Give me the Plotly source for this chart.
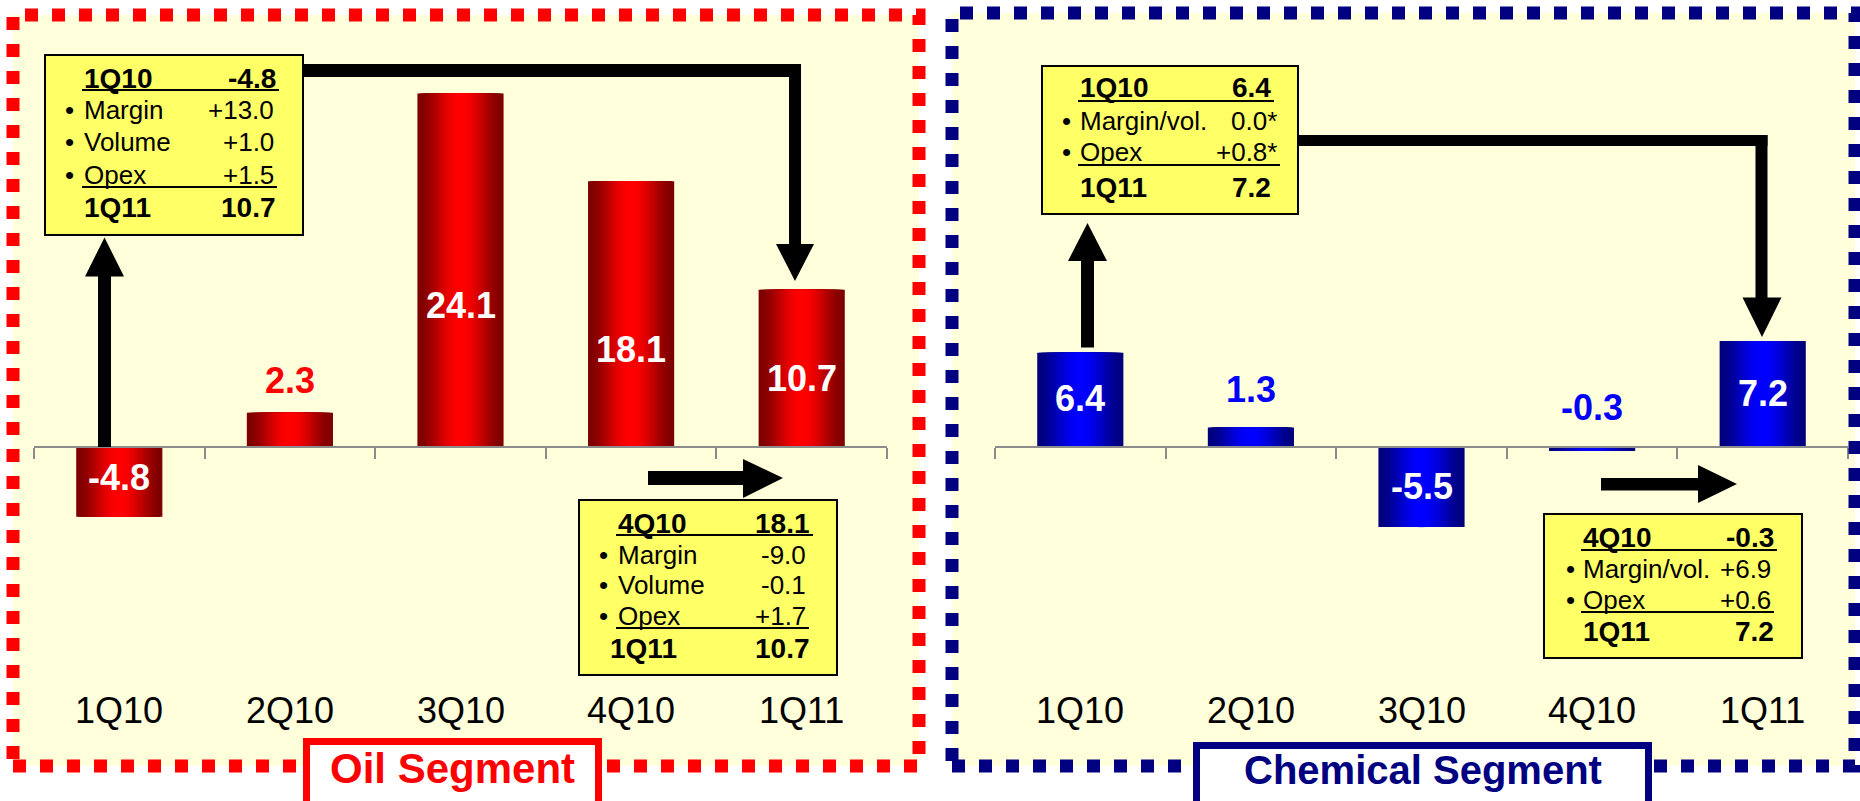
import math
import plotly.graph_objects as go

# ---- data -------------------------------------------------------------
quarters = ["1Q10", "2Q10", "3Q10", "4Q10", "1Q11"]
oil_income = [-4.8, 2.3, 24.1, 18.1, 10.7]
chem_income = [6.4, 1.3, -5.5, -0.3, 7.2]

# bridge boxes: (label, value) rows between the opening and closing quarter
oil_bridge_1q = [("Margin", "+13.0"), ("Volume", "+1.0"), ("Opex", "+1.5")]
oil_bridge_4q = [("Margin", "-9.0"), ("Volume", "-0.1"), ("Opex", "+1.7")]
chem_bridge_1q = [("Margin/vol.", "0.0*"), ("Opex", "+0.8*")]
chem_bridge_4q = [("Margin/vol.", "+6.9"), ("Opex", "+0.6")]

# ---- canvas helpers -----------------------------------------------------
W, H = 1860, 801
PX_PER_UNIT = 14.65
ZERO_Y = 446.5
Y_RANGE = [-(H - ZERO_Y) / PX_PER_UNIT, ZERO_Y / PX_PER_UNIT]


def px(x):
    return x / W


def py(y):
    return 1 - y / H


def rect(x0, y0, x1, y1, **kw):
    d = dict(type="rect", xref="paper", yref="paper",
             x0=px(x0), x1=px(x1), y0=py(y1), y1=py(y0))
    d.update(kw)
    return d


def tri(p1, p2, p3, color="black"):
    pts = [p1, p2, p3]
    path = "M " + " L ".join(f"{px(a)},{py(b)}" for a, b in pts) + " Z"
    return dict(type="path", xref="paper", yref="paper", path=path,
                fillcolor=color, line=dict(width=0), layer="above")


def line(x0, y0, x1, y1, width=2, color="black"):
    return dict(type="line", xref="paper", yref="paper",
                x0=px(x0), x1=px(x1), y0=py(y0), y1=py(y1),
                line=dict(color=color, width=width), layer="above")


fig = go.Figure()

# ---- cylinder-shaded bars ---------------------------------------------------
# Nested, centred bars: the widest (darkest) first, each narrower one a
# little brighter, giving a smooth dark-bright-dark horizontal gradient.
BAR_W = 0.505
N_BANDS = 22


def shade(t, hue):
    s = math.sin(math.pi * t) ** 1.8
    v = int(round(125 + 130 * s))
    return f"rgb({v},0,0)" if hue == "red" else f"rgb(0,0,{v})"


for values, xa, ya, hue in [(oil_income, "x", "y", "red"),
                            (chem_income, "x2", "y2", "blue")]:
    for k in range(N_BANDS):
        w = BAR_W * (1 - k / N_BANDS)
        t = (k + 0.5) / (2 * N_BANDS)
        fig.add_trace(go.Bar(
            x=quarters, y=values, xaxis=xa, yaxis=ya, width=w,
            marker=dict(color=shade(t, hue), line=dict(width=0)),
            hoverinfo="skip", showlegend=False))

# ---- value labels on the bars ---------------------------------------------
oil_label_y = [-2.1, 4.5, 9.6, 6.6, 4.65]
chem_label_y = [3.25, 3.9, -2.75, 2.65, 3.6]
oil_outside = {1}
chem_outside = {1, 3}

annotations = []
for values, label_y, outside, xa, ya, col in [
        (oil_income, oil_label_y, oil_outside, "x", "y", "#FF0000"),
        (chem_income, chem_label_y, chem_outside, "x2", "y2", "#0000FF")]:
    for i, (q, v) in enumerate(zip(quarters, values)):
        annotations.append(dict(
            x=q, y=label_y[i], xref=xa, yref=ya, text=f"<b>{v:.1f}</b>",
            showarrow=False, xanchor="center", yanchor="middle",
            font=dict(family="Arial, Liberation Sans", size=36,
                      color=col if i in outside else "white")))

# ---- category labels ----------------------------------------------------
for xa in ("x", "x2"):
    for q in quarters:
        annotations.append(dict(
            x=q, y=py(710), xref=xa, yref="paper", text=q, showarrow=False,
            xanchor="center", yanchor="middle",
            font=dict(family="Arial, Liberation Sans", size=36, color="black")))

shapes = []

# ---- panel backgrounds and dashed frames --------------------------------
shapes.append(rect(13, 15, 919, 766, fillcolor="#FFFFDC", line=dict(width=0),
                   layer="below"))
shapes.append(rect(952, 13, 1855, 766, fillcolor="#FFFFDC", line=dict(width=0),
                   layer="below"))
shapes.append(rect(13, 15, 919, 766,
                   line=dict(color="#FF0000", width=13, dash="13px,14px"),
                   layer="above"))
shapes.append(rect(952, 13, 1855, 766,
                   line=dict(color="#000080", width=13, dash="13px,14px"),
                   layer="above"))

# ---- arrows ---------------------------------------------------------------
BLK = dict(fillcolor="black", line=dict(width=0), layer="above")
# oil: up arrow from 1Q10, connector to 1Q11, and 4Q10 -> 1Q11 arrow
shapes += [
    rect(98, 276, 111, 447, **BLK),
    tri((85, 276.5), (124, 276.5), (104.5, 237.5)),
    rect(300, 64, 801, 77, **BLK),
    rect(789, 64, 801, 245, **BLK),
    tri((776, 244), (814, 244), (795, 281)),
    rect(648, 471, 744, 485, **BLK),
    tri((743, 459), (743, 498), (783, 478)),
]
# chemical
shapes += [
    rect(1081, 260, 1094, 347.5, **BLK),
    tri((1068, 261), (1107, 261), (1087.5, 223)),
    rect(1295, 135, 1767.5, 146, **BLK),
    rect(1755.5, 135, 1767.5, 298, **BLK),
    tri((1742.5, 297.5), (1781.5, 297.5), (1762, 337)),
    rect(1601, 478, 1699, 490.5, **BLK),
    tri((1698, 465), (1698, 503), (1737, 484)),
]

# ---- bridge boxes -------------------------------------------------------
FONT = "Arial, Liberation Sans"


def bridge_box(box, head, rows, foot, layout):
    x0, y0, x1, y1 = box
    shapes.append(rect(x0, y0, x1, y1, fillcolor="#FFFF66",
                       line=dict(color="black", width=2), layer="above"))
    tx = layout["text_x"]
    bx = layout["bullet_x"]
    vx = layout["value_x"]
    # header row
    hy = layout["head_y"]
    annotations.append(dict(x=px(tx), y=py(hy), xref="paper", yref="paper",
                            text=f"<b>{head[0]}</b>", showarrow=False,
                            xanchor="left", yanchor="middle",
                            font=dict(family=FONT, size=28, color="black")))
    annotations.append(dict(x=px(layout["head_vx"]), y=py(hy), xref="paper",
                            yref="paper", text=f"<b>{head[1]}</b>",
                            showarrow=False, xanchor="right", yanchor="middle",
                            font=dict(family=FONT, size=28, color="black")))
    shapes.append(line(tx, layout["head_ul"], layout["head_vx"] + 1,
                       layout["head_ul"]))
    # item rows
    for (lab, val), ry in zip(rows, layout["row_y"]):
        annotations.append(dict(x=px(bx), y=py(ry), xref="paper", yref="paper",
                                text="•", showarrow=False, xanchor="center",
                                yanchor="middle",
                                font=dict(family=FONT, size=26, color="black")))
        annotations.append(dict(x=px(tx), y=py(ry), xref="paper", yref="paper",
                                text=lab, showarrow=False, xanchor="left",
                                yanchor="middle",
                                font=dict(family=FONT, size=26, color="black")))
        annotations.append(dict(x=px(vx), y=py(ry), xref="paper", yref="paper",
                                text=val, showarrow=False, xanchor="right",
                                yanchor="middle",
                                font=dict(family=FONT, size=26, color="black")))
    shapes.append(line(tx, layout["row_ul"], vx + 1, layout["row_ul"]))
    # closing row
    fy = layout["foot_y"]
    annotations.append(dict(x=px(layout["foot_x"]), y=py(fy), xref="paper",
                            yref="paper", text=f"<b>{foot[0]}</b>",
                            showarrow=False, xanchor="left", yanchor="middle",
                            font=dict(family=FONT, size=28, color="black")))
    annotations.append(dict(x=px(layout["head_vx"]), y=py(fy), xref="paper",
                            yref="paper", text=f"<b>{foot[1]}</b>",
                            showarrow=False, xanchor="right", yanchor="middle",
                            font=dict(family=FONT, size=28, color="black")))


def fmt(v):
    return f"{v:.1f}"


bridge_box((45, 55, 303, 235), ("1Q10", fmt(oil_income[0])), oil_bridge_1q,
           ("1Q11", fmt(oil_income[4])),
           dict(text_x=82, bullet_x=69, value_x=276, head_vx=278, head_y=78,
                head_ul=90, row_y=[110, 142, 175], row_ul=187, foot_x=82,
                foot_y=208))
bridge_box((579, 500, 837, 675), ("4Q10", fmt(oil_income[3])), oil_bridge_4q,
           ("1Q11", fmt(oil_income[4])),
           dict(text_x=616, bullet_x=603, value_x=808, head_vx=812, head_y=523,
                head_ul=535, row_y=[555, 585, 616], row_ul=628, foot_x=608,
                foot_y=648))
bridge_box((1042, 66, 1298, 214), ("1Q10", fmt(chem_income[0])), chem_bridge_1q,
           ("1Q11", fmt(chem_income[4])),
           dict(text_x=1078, bullet_x=1066, value_x=1279, head_vx=1273,
                head_y=87, head_ul=101, row_y=[121, 152], row_ul=165,
                foot_x=1078, foot_y=187))
bridge_box((1544, 514, 1802, 658), ("4Q10", fmt(chem_income[3])), chem_bridge_4q,
           ("1Q11", fmt(chem_income[4])),
           dict(text_x=1581, bullet_x=1570, value_x=1773, head_vx=1776,
                head_y=537, head_ul=550, row_y=[569, 600], row_ul=612,
                foot_x=1581, foot_y=631))

# ---- segment titles -----------------------------------------------------
shapes.append(rect(306.5, 741.5, 598.5, 820, fillcolor="white",
                   line=dict(color="#FF0000", width=7), layer="above"))
shapes.append(rect(1196.5, 745.5, 1648.5, 820, fillcolor="white",
                   line=dict(color="#000080", width=7), layer="above"))
annotations.append(dict(x=px(452), y=py(768), xref="paper", yref="paper",
                        text="<b>Oil Segment</b>", showarrow=False,
                        xanchor="center", yanchor="middle",
                        font=dict(family=FONT, size=42, color="#FF0000")))
annotations.append(dict(x=px(1423), y=py(770), xref="paper", yref="paper",
                        text="<b>Chemical Segment</b>", showarrow=False,
                        xanchor="center", yanchor="middle",
                        font=dict(family=FONT, size=40, color="#000080")))


# ---- axes -----------------------------------------------------------------
def cat_axis(x0, x1):
    return dict(domain=[px(x0), px(x1)], type="category",
                categoryorder="array", categoryarray=quarters,
                range=[-0.5, 4.5], anchor="free", position=py(ZERO_Y),
                showline=True, linecolor="#8C8C8C", linewidth=2,
                ticks="outside", tickson="boundaries", ticklen=11,
                tickcolor="#8C8C8C", tickwidth=2, showticklabels=False,
                showgrid=False, zeroline=False, fixedrange=True)


def val_axis():
    return dict(domain=[0, 1], range=Y_RANGE, visible=False,
                showgrid=False, zeroline=False, fixedrange=True)


fig.update_layout(
    width=W, height=H, margin=dict(l=0, r=0, t=0, b=0),
    paper_bgcolor="white", plot_bgcolor="rgba(0,0,0,0)",
    barmode="overlay", showlegend=False,
    xaxis=cat_axis(34, 887), yaxis=val_axis(),
    xaxis2=cat_axis(995, 1848), yaxis2=dict(val_axis(), anchor="x2"),
    shapes=shapes, annotations=annotations,
)

fig.write_html("out.html")
